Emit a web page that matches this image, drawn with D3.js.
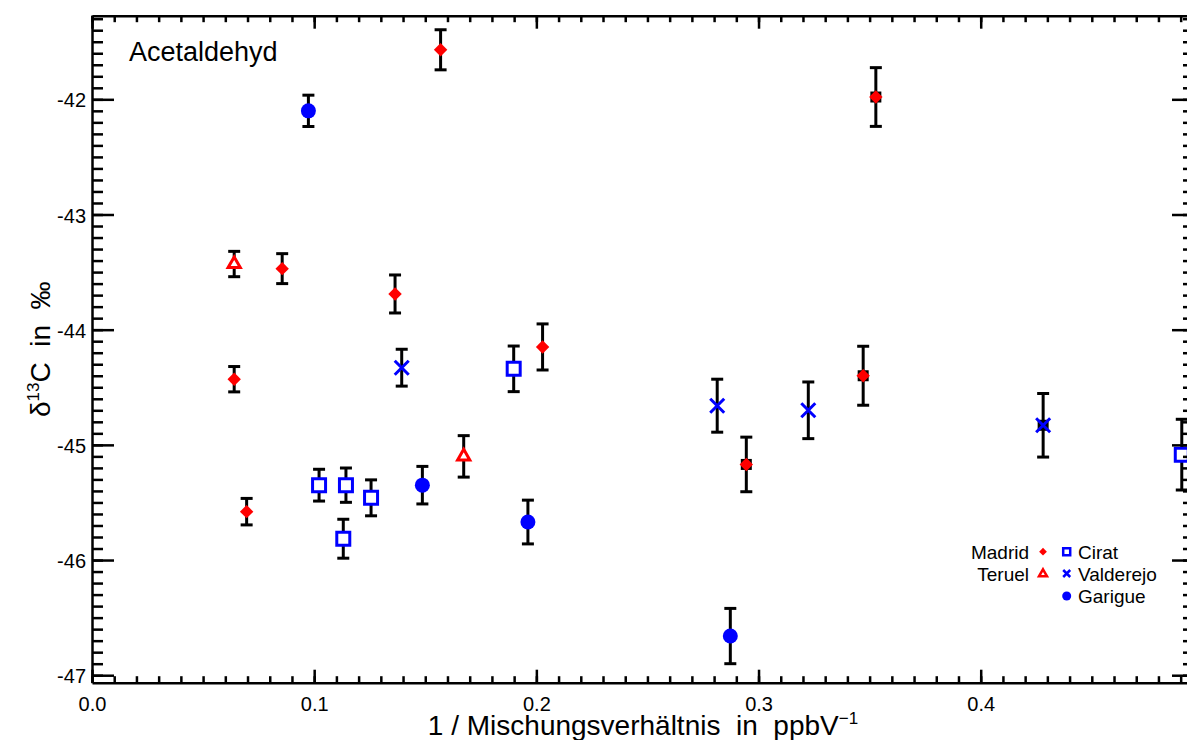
<!DOCTYPE html>
<html>
<head>
<meta charset="utf-8">
<script src="https://cdn.jsdelivr.net/npm/d3@7"></script>
<style>
  body { margin: 0; background: #fff; }
  text { font-family: "Liberation Sans", Arial, sans-serif; fill: #000; }
</style>
</head>
<body>
<div id="chart"></div>
<script>
// data: x = 1/mixing ratio, y = delta13C, err = error bar half length

var madridX = [0.0640, 0.0696, 0.0856, 0.1364, 0.1569, 0.2028, 0.2945, 0.3471, 0.3528];
var madridY = [-44.43, -45.58, -43.47, -43.69, -41.57, -44.15, -45.17, -44.40, -41.98];
var madridErr = [0.11, 0.115, 0.13, 0.165, 0.174, 0.20, 0.237, 0.256, 0.255];
var madridDark = [0, 0, 0, 0, 0, 0, 1, 1, 1];

var teruelX = [0.0640, 0.1673];
var teruelY = [-43.43, -45.10];
var teruelErr = [0.11, 0.18];

var ciratX = [0.1022, 0.1143, 0.1256, 0.1131, 0.1898, 0.4905];
var ciratY = [-45.35, -45.35, -45.46, -45.815, -44.34, -45.085];
var ciratErr = [0.138, 0.149, 0.156, 0.169, 0.198, 0.307];

var valderejoX = [0.1394, 0.2814, 0.3224, 0.4281];
var valderejoY = [-44.33, -44.66, -44.70, -44.83];
var valderejoErr = [0.16, 0.23, 0.246, 0.276];
var valderejoDark = [0, 0, 0, 1];

var garigueX = [0.0974, 0.1487, 0.1962, 0.2873];
var garigueY = [-42.10, -45.35, -45.67, -46.66];
var garigueErr = [0.136, 0.163, 0.19, 0.24];

var xMajor = [0.0, 0.1, 0.2, 0.3, 0.4];
var xMinor = d3.range(0, 50).map(i => i / 100);
var yMajor = [-47, -46, -45, -44, -43, -42];
var yMinor = d3.range(-470, -412).map(i => i / 10);

//svg size
var svgWidth = 1187;
var svgHeight = 740;

//plot frame (right edge sits just outside the picture)
var plot = { left: 92, right: 1194, top: 15.7, bottom: 682.7 };

var svg = d3.select("#chart").append("svg")
    .attr("width", svgWidth)
    .attr("height", svgHeight);

var xScale = d3.scaleLinear()
    .domain([0, 0.496])
    .range([plot.left, plot.right]);

var yScale = d3.scaleLinear()
    .domain([-47.065, -41.274])
    .range([plot.bottom, plot.top]);

// helper to turn the arrays into point objects
function points(xs, ys, es, dark) {
    return xs.map((x, i) => ({ x: x, y: ys[i], e: es[i], dark: dark ? dark[i] : 0 }));
}

var madrid = points(madridX, madridY, madridErr, madridDark);
var teruel = points(teruelX, teruelY, teruelErr);
var cirat = points(ciratX, ciratY, ciratErr);
var valderejo = points(valderejoX, valderejoY, valderejoErr, valderejoDark);
var garigue = points(garigueX, garigueY, garigueErr);

var allPoints = madrid.concat(teruel, cirat, valderejo, garigue);

//error bars first, symbols go on top
var bars = svg.append("g")
    .attr("stroke", "#000")
    .attr("stroke-width", 3);

allPoints.forEach(d => {
    var px = xScale(d.x);
    var y1 = yScale(d.y + d.e);
    var y2 = yScale(d.y - d.e);
    bars.append("line").attr("x1", px).attr("x2", px).attr("y1", y1).attr("y2", y2);
    bars.append("line").attr("x1", px - 6).attr("x2", px + 6).attr("y1", y1).attr("y2", y1);
    bars.append("line").attr("x1", px - 6).attr("x2", px + 6).attr("y1", y2).attr("y2", y2);
});

// small black squares behind some of the marks
var darkOnes = madrid.concat(valderejo).filter(d => d.dark);
svg.append("g").selectAll("rect")
    .data(darkOnes)
    .enter()
    .append("rect")
    .attr("x", d => xScale(d.x) - 5.5)
    .attr("y", d => yScale(d.y) - 5.5)
    .attr("width", 11)
    .attr("height", 11)
    .attr("fill", "#000");

var diamond = d3.symbol().type(d3.symbolSquare).size(90);
var square = d3.symbol().type(d3.symbolSquare).size(169);
var triangle = d3.symbol().type(d3.symbolTriangle).size(64);

// marker drawing functions, also used by the legend
function drawDiamond(g, x, y, s) {
    g.append("path")
        .attr("d", d3.symbol().type(d3.symbolSquare).size(s)())
        .attr("transform", `translate(${x},${y}) rotate(45)`)
        .attr("fill", "#ff0000");
}
function drawTriangle(g, x, y, s, w) {
    g.append("path")
        .attr("d", d3.symbol().type(d3.symbolTriangle).size(s)())
        .attr("transform", `translate(${x},${y})`)
        .attr("fill", "#fff")
        .attr("stroke", "#ff0000")
        .attr("stroke-width", w);
}
function drawSquare(g, x, y, s, w) {
    g.append("path")
        .attr("d", d3.symbol().type(d3.symbolSquare).size(s)())
        .attr("transform", `translate(${x},${y})`)
        .attr("fill", "#fff")
        .attr("stroke", "#0000ff")
        .attr("stroke-width", w);
}
function drawCross(g, x, y, h, w) {
    g.append("path")
        .attr("d", `M${x - h},${y - h}L${x + h},${y + h}M${x - h},${y + h}L${x + h},${y - h}`)
        .attr("stroke", "#0000ff")
        .attr("stroke-width", w);
}
function drawDot(g, x, y, r) {
    g.append("circle")
        .attr("cx", x)
        .attr("cy", y)
        .attr("r", r)
        .attr("fill", "#0000ff");
}

var marks = svg.append("g");
madrid.forEach(d => drawDiamond(marks, xScale(d.x), yScale(d.y), 90));
teruel.forEach(d => drawTriangle(marks, xScale(d.x), yScale(d.y), 64, 3));
cirat.forEach(d => drawSquare(marks, xScale(d.x), yScale(d.y), 169, 3));
valderejo.forEach(d => drawCross(marks, xScale(d.x), yScale(d.y), 7, 3));
garigue.forEach(d => drawDot(marks, xScale(d.x), yScale(d.y), 7.5));

//axes: major and minor ticks on all four sides, pointing inwards
function styleAxis(g) {
    g.selectAll("line, path").attr("stroke", "#000").attr("stroke-width", 2.5);
}

svg.append("g")
    .attr("transform", `translate(0,${plot.bottom})`)
    .call(d3.axisBottom(xScale).tickValues(xMajor).tickSize(-13).tickSizeOuter(0)
        .tickPadding(14).tickFormat(d3.format(".1f")))
    .call(styleAxis)
    .call(g => g.selectAll("text").attr("font-size", 20).attr("font-family", null));

svg.append("g")
    .attr("transform", `translate(0,${plot.bottom})`)
    .call(d3.axisBottom(xScale).tickValues(xMinor).tickSize(-6.5).tickFormat(""))
    .call(styleAxis)
    .call(g => g.select(".domain").remove());

svg.append("g")
    .attr("transform", `translate(0,${plot.top})`)
    .call(d3.axisTop(xScale).tickValues(xMajor).tickSize(-13).tickSizeOuter(0).tickFormat(""))
    .call(styleAxis);

svg.append("g")
    .attr("transform", `translate(0,${plot.top})`)
    .call(d3.axisTop(xScale).tickValues(xMinor).tickSize(-6.5).tickFormat(""))
    .call(styleAxis)
    .call(g => g.select(".domain").remove());

svg.append("g")
    .attr("transform", `translate(${plot.left},0)`)
    .call(d3.axisLeft(yScale).tickValues(yMajor).tickSize(-22).tickSizeOuter(0)
        .tickPadding(6).tickFormat(d => String(d)))
    .call(styleAxis)
    .call(g => g.selectAll("text").attr("font-size", 20).attr("font-family", null).attr("dy", "0.38em"));

svg.append("g")
    .attr("transform", `translate(${plot.left},0)`)
    .call(d3.axisLeft(yScale).tickValues(yMinor).tickSize(-11).tickFormat(""))
    .call(styleAxis)
    .call(g => g.select(".domain").remove());

svg.append("g")
    .attr("transform", `translate(${plot.right},0)`)
    .call(d3.axisRight(yScale).tickValues(yMajor).tickSize(-22).tickSizeOuter(0).tickFormat(""))
    .call(styleAxis);

svg.append("g")
    .attr("transform", `translate(${plot.right},0)`)
    .call(d3.axisRight(yScale).tickValues(yMinor).tickSize(-11).tickFormat(""))
    .call(styleAxis)
    .call(g => g.select(".domain").remove());

//title inside the plot
svg.append("text")
    .attr("x", 129)
    .attr("y", 61)
    .attr("font-size", 27)
    .text("Acetaldehyd");

//x axis label
var xLabel = svg.append("text")
    .attr("x", (plot.left + plot.right) / 2)
    .attr("y", 735)
    .attr("font-size", 28)
    .attr("text-anchor", "middle")
    .style("white-space", "pre");
xLabel.append("tspan").text("1 / Mischungsverhältnis  in  ppbV");
xLabel.append("tspan").attr("dy", -11).attr("font-size", 17).text("−1");

//y axis label
var yLabel = svg.append("text")
    .attr("transform", `translate(50,${(plot.top + plot.bottom) / 2}) rotate(-90)`)
    .attr("font-size", 28)
    .attr("text-anchor", "middle")
    .style("white-space", "pre");
yLabel.append("tspan").text("δ");
yLabel.append("tspan").attr("dy", -11).attr("font-size", 17).text("13");
yLabel.append("tspan").attr("dy", 11).text("C  in  ‰");

//legend
var legend = svg.append("g");
var rows = [551.7, 573.5, 596];

legend.append("text").attr("x", 1029).attr("y", rows[0] + 7).attr("text-anchor", "end")
    .attr("font-size", 19).text("Madrid");
legend.append("text").attr("x", 1029).attr("y", rows[1] + 7).attr("text-anchor", "end")
    .attr("font-size", 19).text("Teruel");
drawDiamond(legend, 1043, rows[0], 30);
drawTriangle(legend, 1043, rows[1] + 0.5, 28, 2.5);
drawSquare(legend, 1066.7, rows[0], 49, 2.5);
drawCross(legend, 1066.7, rows[1], 3.5, 2.5);
drawDot(legend, 1066.7, rows[2], 4.5);
legend.append("text").attr("x", 1078).attr("y", rows[0] + 7).attr("font-size", 19).text("Cirat");
legend.append("text").attr("x", 1078).attr("y", rows[1] + 7).attr("font-size", 19).text("Valderejo");
legend.append("text").attr("x", 1078).attr("y", rows[2] + 7).attr("font-size", 19).text("Garigue");
</script>
</body>
</html>
